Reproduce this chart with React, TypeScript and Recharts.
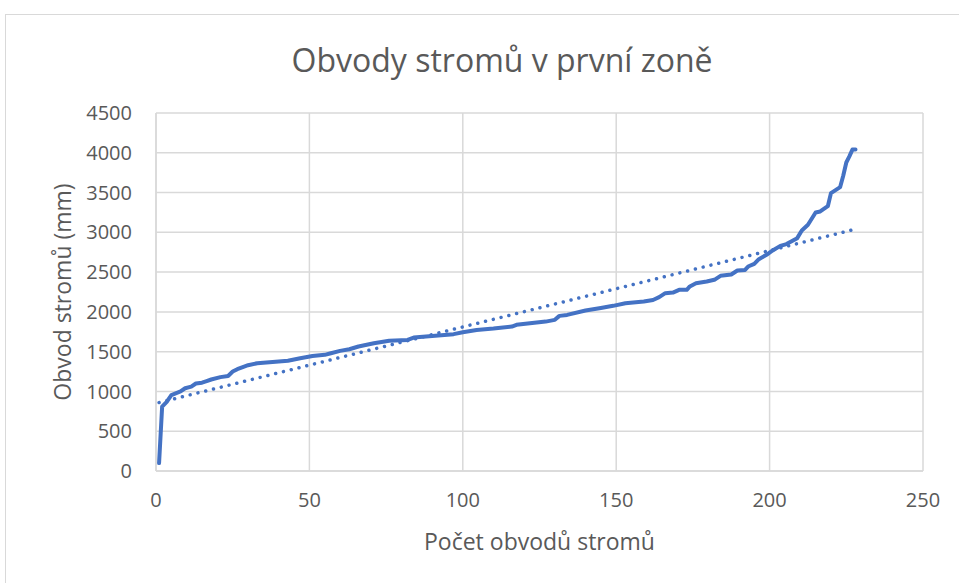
import React from "react";
import { LineChart, Line, XAxis, YAxis, CartesianGrid, Label } from "recharts";

const treeIndex = [
  1, 2, 3.5, 5, 8, 9.5, 11.5, 13, 15, 16.5, 18, 21, 23.5, 25, 26.5, 28.5, 30, 33, 43, 47,
  51, 55, 57, 60, 63, 66, 71, 76, 82, 84, 88, 97, 100, 104.5, 110, 116, 117.5, 127, 130, 131.5,
  134, 140, 145, 149, 153, 159, 162, 164, 166, 168.5, 170.5, 173, 174, 176, 179.5, 182, 184, 187.5, 189.5, 192,
  193, 195, 196.5, 199, 201, 203.5, 205.5, 209, 210.5, 212.5, 215, 216.5, 218.5, 219, 220, 222, 223, 224, 225, 226,
  227, 228,
];
const circumference = [
  100, 810, 870, 955, 1000, 1040, 1060, 1100, 1110, 1130, 1150, 1180, 1195, 1250, 1280, 1310, 1330, 1355, 1385, 1418,
  1445, 1460, 1480, 1510, 1530, 1565, 1605, 1638, 1648, 1677, 1690, 1720, 1745, 1772, 1790, 1815, 1837, 1878, 1900, 1950,
  1962, 2017, 2050, 2076, 2108, 2130, 2150, 2185, 2235, 2243, 2277, 2277, 2320, 2360, 2382, 2403, 2453, 2470, 2520, 2528,
  2570, 2604, 2663, 2717, 2772, 2830, 2852, 2927, 3023, 3095, 3250, 3262, 3317, 3330, 3493, 3544, 3569, 3711, 3878, 3954,
  4040, 4040,
];
const trendX = [1, 228];
const trendY = [860, 3040];

const xTicks = [0, 50, 100, 150, 200, 250];
const yTicks = [0, 500, 1000, 1500, 2000, 2500, 3000, 3500, 4000, 4500];

const title = "Obvody stromů v první zoně";
const xTitle = "Počet obvodů stromů";
const yTitle = "Obvod stromů (mm)";

const seriesData = treeIndex.map((x, i) => ({ x, y: circumference[i] }));
const trendData = trendX.map((x, i) => ({ x, y: trendY[i] }));

const FONT = "'Open Sans', sans-serif";
const TXT = "#595959";
const GRID = "#d9d9d9";
const BLUE = "#4472C4";

export default function App() {
  return (
    <div
      style={{
        position: "absolute",
        left: 0,
        top: 0,
        width: 959,
        height: 583,
        overflow: "hidden",
        background: "#fff",
        fontFamily: FONT,
      }}
    >
      <div
        style={{
          position: "absolute",
          left: 5,
          top: 14,
          width: 1100,
          height: 800,
          border: `1px solid ${GRID}`,
        }}
      />
      <div
        style={{
          position: "absolute",
          left: 0,
          width: 1004,
          top: 38,
          textAlign: "center",
          fontSize: 32,
          color: TXT,
          lineHeight: "44px",
        }}
      >
        {title}
      </div>
      <div style={{ position: "absolute", left: 0, top: 0 }}>
        <LineChart
          width={959}
          height={583}
          margin={{ top: 113, right: 36, bottom: 82, left: 96 }}
        >
          <CartesianGrid stroke={GRID} strokeWidth={1.5} />
          <XAxis
            type="number"
            dataKey="x"
            domain={[0, 250]}
            ticks={xTicks}
            allowDataOverflow
            stroke={GRID}
            strokeWidth={1.5}
            tickLine={false}
            tickSize={0}
            tickMargin={22}
            height={30}
            tick={{ fill: TXT, fontSize: 20, fontFamily: FONT }}
          >
            <Label
              value={xTitle}
              position="bottom"
              offset={33}
              style={{ fill: TXT, fontSize: 23, fontFamily: FONT }}
            />
          </XAxis>
          <YAxis
            type="number"
            domain={[0, 4500]}
            ticks={yTicks}
            allowDataOverflow
            stroke={GRID}
            strokeWidth={1.5}
            tickLine={false}
            tickSize={0}
            tickMargin={24}
            width={60}
            tick={{ fill: TXT, fontSize: 20, fontFamily: FONT }}
          >
            <Label
              value={yTitle}
              angle={-90}
              position="left"
              offset={33}
              style={{ fill: TXT, fontSize: 23, fontFamily: FONT, textAnchor: "middle" }}
            />
          </YAxis>
          <Line
            data={trendData}
            dataKey="y"
            type="linear"
            stroke={BLUE}
            strokeWidth={3.5}
            strokeDasharray="0.01 8"
            strokeLinecap="round"
            dot={false}
            activeDot={false}
            isAnimationActive={false}
          />
          <Line
            data={seriesData}
            dataKey="y"
            type="linear"
            stroke={BLUE}
            strokeWidth={4}
            strokeLinejoin="round"
            strokeLinecap="round"
            dot={false}
            activeDot={false}
            isAnimationActive={false}
          />
        </LineChart>
      </div>
    </div>
  );
}
